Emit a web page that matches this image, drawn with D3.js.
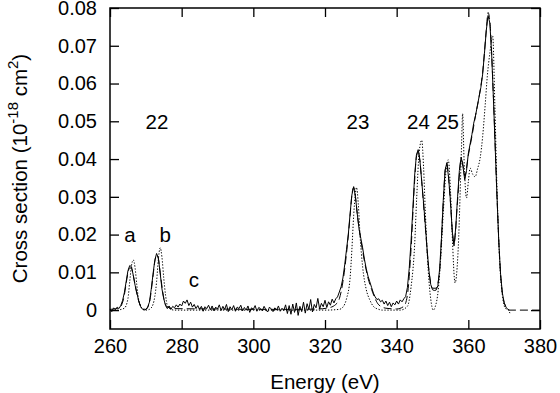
<!DOCTYPE html>
<html>
<head>
<meta charset="utf-8">
<script src="https://cdn.jsdelivr.net/npm/d3@7"></script>
<style>
  body { margin: 0; background: #fff; }
  svg { display: block; font-family: "Liberation Sans", Arial, Helvetica, sans-serif; }
  .tick text { font-size: 20px; fill: #000; }
  .label { font-size: 20.5px; fill: #000; }
</style>
</head>
<body>
<svg id="chart" width="560" height="393"></svg>
<script>

// Experimental curve, sampled every 0.5 eV starting at 260 eV
var measStart = 260, measStep = 0.5;
var measured = [
  0.0003, -0.0004, 0.0006, 0.0001, 0.0008, 0.0004, 0.0012, 0.0025, 0.0046, 0.0075,
  0.0104, 0.0118, 0.0115, 0.0092, 0.0066, 0.0046, 0.0024, 0.0010, 0.0003, 0.0000,
  0.0002, 0.0008, 0.0021, 0.0055, 0.0095, 0.0132, 0.0150, 0.0138, 0.0098, 0.0056,
  0.0030, 0.0012, 0.0004, 0.0011, 0.0002, 0.0010, 0.0006, 0.0014, 0.0008, 0.0016,
  0.0011, 0.0024, 0.0018, 0.0027, 0.0012, 0.0021, 0.0008, 0.0015, 0.0004, 0.0012,
  0.0002, 0.0010, -0.0003, 0.0009, 0.0004, 0.0013, 0.0001, 0.0011, -0.0002, 0.0008,
  0.0003, 0.0014, -0.0001, 0.0010, 0.0002, 0.0015, -0.0004, 0.0009, 0.0001, 0.0012,
  -0.0003, 0.0008, 0.0004, 0.0013, -0.0002, 0.0007, 0.0000, 0.0011, -0.0006, 0.0006,
  0.0002, 0.0012, -0.0003, 0.0007, 0.0004, -0.0002, 0.0010, 0.0001, -0.0005, 0.0008,
  0.0003, -0.0004, 0.0006, 0.0000, 0.0011, -0.0003, 0.0005, -0.0001, 0.0014, -0.0009,
  0.0012, -0.0011, 0.0016, -0.0006, 0.0019, -0.0014, 0.0010, -0.0004, 0.0021, -0.0008,
  0.0017, 0.0002, 0.0028, -0.0005, 0.0015, 0.0006, 0.0031, 0.0003, 0.0018, 0.0009,
  0.0026, 0.0007, 0.0022, 0.0013, 0.0029, 0.0019, 0.0030, 0.0035, 0.0048, 0.0062,
  0.0085, 0.0120, 0.0160, 0.0200, 0.0255, 0.0305, 0.0327, 0.0300, 0.0255, 0.0215,
  0.0190, 0.0165, 0.0135, 0.0110, 0.0090, 0.0075, 0.0060, 0.0045, 0.0035, 0.0028,
  0.0030, 0.0022, 0.0026, 0.0016, 0.0024, 0.0012, 0.0021, 0.0009, 0.0019, 0.0014,
  0.0024, 0.0016, 0.0027, 0.0022, 0.0030, 0.0036, 0.0060, 0.0110, 0.0180, 0.0265,
  0.0355, 0.0410, 0.0425, 0.0395, 0.0340, 0.0285, 0.0225, 0.0160, 0.0105, 0.0068,
  0.0054, 0.0052, 0.0053, 0.0065, 0.0110, 0.0190, 0.0290, 0.0370, 0.0390, 0.0350,
  0.0290, 0.0210, 0.0170, 0.0220, 0.0300, 0.0370, 0.0405, 0.0380, 0.0345, 0.0370,
  0.0415, 0.0440, 0.0465, 0.0495, 0.0515, 0.0540, 0.0565, 0.0590, 0.0625, 0.0680,
  0.0740, 0.0780, 0.0760, 0.0680, 0.0560, 0.0430, 0.0300, 0.0180, 0.0095, 0.0045,
  0.0020, 0.0008, 0.0002, 0.0000
];

// Calculated curve (dashed), [energy, cross section]
var calcA = [
  [260, 0.0002], [262, 0.0004], [263, 0.0010], [264, 0.0040], [264.5, 0.0070],
  [265, 0.0098], [265.5, 0.0112], [266, 0.0110], [266.5, 0.0092], [267, 0.0066],
  [268, 0.0025], [269, 0.0005], [270, 0.0002], [271, 0.0020], [272, 0.0090],
  [272.5, 0.0128], [273, 0.0146], [273.5, 0.0136], [274, 0.0100], [275, 0.0032],
  [276, 0.0008], [278, 0.0004], [290, 0.0003], [300, 0.0002], [310, 0.0002],
  [318, 0.0003], [321, 0.0006], [323, 0.0015], [324, 0.0030], [325, 0.0075],
  [326, 0.0150], [327, 0.0250], [327.5, 0.0305], [328, 0.0325], [328.5, 0.0300],
  [329, 0.0255], [330, 0.0185], [331, 0.0130], [332, 0.0085], [333, 0.0055],
  [334, 0.0030], [335, 0.0014], [337, 0.0005], [340, 0.0003], [342, 0.0010],
  [343, 0.0040], [344, 0.0160], [345, 0.0340], [345.5, 0.0405], [346, 0.0420],
  [346.5, 0.0395], [347, 0.0340], [348, 0.0220], [349, 0.0105], [350, 0.0058],
  [351, 0.0058], [352, 0.0105], [353, 0.0285], [353.5, 0.0365], [354, 0.0388],
  [354.5, 0.0350], [355, 0.0285], [356, 0.0175], [357, 0.0290], [358, 0.0400],
  [358.5, 0.0385], [359, 0.0355], [360, 0.0410], [361, 0.0460], [362, 0.0515],
  [363, 0.0565], [364, 0.0630], [365, 0.0740], [365.5, 0.0788], [366, 0.0765],
  [367, 0.0565], [368, 0.0300], [369, 0.0095], [370, 0.0020], [371, 0.0003],
  [371.5, 0], [380, 0]
];

// Calculated curve (dotted), [energy, cross section]
var calcB = [
  [262, 0.0000], [264, 0.0005], [265, 0.0030], [265.5, 0.0075], [266, 0.0118],
  [266.5, 0.0133], [267, 0.0112], [267.5, 0.0065], [268, 0.0028], [269, 0.0004],
  [270, 0.0000], [271, 0.0002], [272, 0.0015], [273, 0.0075], [273.5, 0.0135],
  [274, 0.0165], [274.5, 0.0140], [275, 0.0085], [275.5, 0.0040], [276, 0.0012],
  [277, 0.0002], [278, 0], [290, 0], [310, 0], [320, 0], [324, 0.0002],
  [325, 0.0008], [326, 0.0030], [327, 0.0085], [327.5, 0.0160], [328, 0.0250],
  [328.5, 0.0310], [328.8, 0.0325], [329.3, 0.0280], [329.8, 0.0195], [330.5, 0.0115],
  [331.5, 0.0055], [332.5, 0.0027], [333.5, 0.0010], [335, 0.0002], [336, 0],
  [341, 0], [343, 0.0010], [344, 0.0060], [345, 0.0170], [345.6, 0.0300],
  [346.3, 0.0420], [347, 0.0450], [347.5, 0.0380], [348, 0.0260], [348.8, 0.0106],
  [349.5, 0.0030], [350.2, 0.0000], [350.8, 0.0010], [351.6, 0.0053], [352.3, 0.0140],
  [353, 0.0257], [353.7, 0.0360], [354.4, 0.0398], [355, 0.0320], [355.5, 0.0200],
  [356.3, 0.0072], [357.2, 0.0168], [358.1, 0.0433], [358.4, 0.0520], [358.8, 0.0400],
  [359.5, 0.0297], [360, 0.0340], [360.5, 0.0376], [361.2, 0.0360], [361.9, 0.0353],
  [362.6, 0.0375], [363.3, 0.0403], [364, 0.0460], [364.7, 0.0543], [365.3, 0.0620],
  [366, 0.0680], [366.8, 0.0726], [367.4, 0.0543], [368, 0.0320], [368.8, 0.0120],
  [369.5, 0.0040], [370.3, 0.0005], [371.2, 0.0000], [371.6, -0.0008]
];

// Peak annotations
var peakLabels = ["a", "b", "c", "22", "23", "24", "25"];
var peakEnergy = [265.6, 275.4, 283.4, 273.1, 329.2, 346.1, 354.2];
var peakHeight = [0.018, 0.018, 0.006, 0.048, 0.048, 0.048, 0.048];

var xTicks = [260, 280, 300, 320, 340, 360, 380];
var yTicks = [0, 0.01, 0.02, 0.03, 0.04, 0.05, 0.06, 0.07, 0.08];

var margin = {top: 8, right: 20, bottom: 64, left: 110},
    width = 560 - margin.left - margin.right,
    height = 393 - margin.top - margin.bottom;

var svg = d3.select("#chart");
var g = svg.append("g")
  .attr("transform", "translate(" + margin.left + "," + margin.top + ")")
  ;

var x = d3.scaleLinear().domain([260, 380]).range([0, width]);
var y = d3.scaleLinear().domain([-0.005, 0.08]).range([height, 0]);

var yFormat = function(d) { return d === 0 ? "0" : d3.format(".2f")(d); };

//** Axes, ticks point inward **//

function styleAxis(sel) {
  sel.select(".domain").remove();
  sel.selectAll(".tick line").attr("stroke", "#000").attr("stroke-width", 1.3);
  sel.selectAll(".tick text").attr("font-family", null).attr("font-size", null);
  return sel;
}

g.append("g")
  .attr("transform", "translate(0," + height + ")")
  .call(d3.axisBottom(x).tickValues(xTicks).tickSize(-9).tickPadding(10))
  .call(styleAxis)
  ;
g.append("g")
  .call(d3.axisTop(x).tickValues(xTicks).tickSize(-9).tickFormat(""))
  .call(styleAxis)
  ;
g.append("g")
  .call(d3.axisLeft(y).tickValues(yTicks).tickSize(-9).tickPadding(13).tickFormat(yFormat))
  .call(styleAxis)
  ;
g.append("g")
  .attr("transform", "translate(" + width + ",0)")
  .call(d3.axisRight(y).tickValues(yTicks).tickSize(-9).tickFormat(""))
  .call(styleAxis)
  ;

// Frame
g.append("rect")
  .attr("width", width)
  .attr("height", height)
  .attr("fill", "none")
  .attr("stroke", "#000")
  .attr("stroke-width", 1.5)
  ;

//** Curves **//

var line = d3.line()
  .x(function(d) { return x(d[0]); })
  .y(function(d) { return y(d[1]); })
  ;
var smooth = d3.line()
  .x(function(d) { return x(d[0]); })
  .y(function(d) { return y(d[1]); })
  .curve(d3.curveMonotoneX)
  ;

var measPts = measured.map(function(v, i) { return [measStart + i * measStep, v]; });

g.append("path")
  .attr("d", smooth(calcB))
  .attr("fill", "none")
  .attr("stroke", "#000")
  .attr("stroke-width", 1)
  .attr("stroke-dasharray", "1.3,1.7")
  ;
g.append("path")
  .attr("d", smooth(calcA))
  .attr("fill", "none")
  .attr("stroke", "#000")
  .attr("stroke-width", 1)
  .attr("stroke-dasharray", "8,4")
  ;
g.append("path")
  .attr("d", line(measPts))
  .attr("fill", "none")
  .attr("stroke", "#000")
  .attr("stroke-width", 1)
  ;

//** Labels **//

g.selectAll(".peak")
  .data(peakLabels)
  .enter().append("text")
  .attr("class", "label peak")
  .attr("x", function(d, i) { return x(peakEnergy[i]); })
  .attr("y", function(d, i) { return y(peakHeight[i]); })
  .attr("text-anchor", "middle")
  .text(function(d) { return d; })
  ;

svg.append("text")
  .attr("class", "label")
  .attr("x", margin.left + width / 2)
  .attr("y", 389)
  .attr("text-anchor", "middle")
  .text("Energy (eV)")
  ;

var yl = svg.append("text")
  .attr("class", "label")
  .attr("transform", "translate(27," + (margin.top + height / 2) + ") rotate(-90)")
  .attr("text-anchor", "middle")
  ;
yl.append("tspan").text("Cross section (10");
yl.append("tspan").attr("dy", -9).attr("font-size", 15).text("-18");
yl.append("tspan").attr("dy", 9).text(" cm");
yl.append("tspan").attr("dy", -9).attr("font-size", 15).text("2");
yl.append("tspan").attr("dy", 9).text(")");

</script>
</body>
</html>
